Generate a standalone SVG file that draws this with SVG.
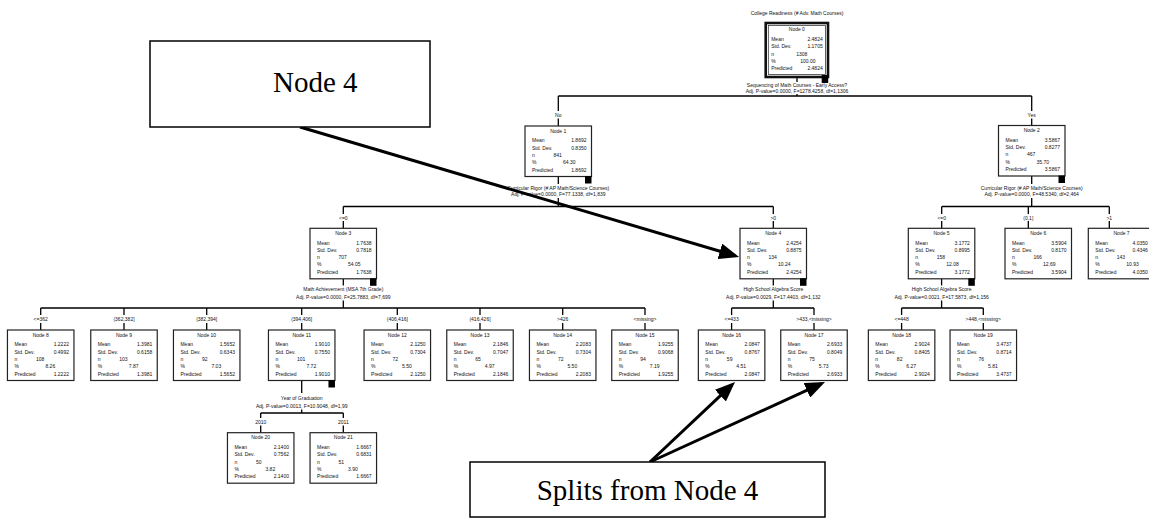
<svg xmlns="http://www.w3.org/2000/svg" width="1149" height="519" viewBox="0 0 1149 519">
<style>
.t{font-family:"Liberation Sans",Arial,sans-serif;font-size:5px;fill:#111}
.m{text-anchor:middle}
.e{text-anchor:end}
.box{fill:#fff;stroke:#222;stroke-width:1.2}
.sq{fill:#000}
.ln{stroke:#000;stroke-width:1.3;fill:none}
.call{fill:#fff;stroke:#000;stroke-width:1.5}
.ct{font-family:"Liberation Serif","Times New Roman",serif;font-size:29px;fill:#000}
.arr{stroke:#000;stroke-width:3;fill:none;marker-end:url(#ah)}
</style>
<defs>
<marker id="ah" markerUnits="userSpaceOnUse" markerWidth="22" markerHeight="16" refX="16" refY="8" orient="auto"><path d="M0,0 L20,8 L0,16 z" fill="#000"/></marker>
</defs>
<rect width="1149" height="519" fill="#fff"/>

<g id="connectors">
<path class="ln" d="M797,77 V82 M797,94 V96 M558.3,96 H1031.7 M558.3,96 V111 M558.3,118.5 V126 M1031.7,96 V111 M1031.7,118.5 V125.5"/>
<path class="ln" d="M558.3,176.5 V184 M558.3,198 V206.5 M343.3,206.5 H773.3 M343.3,206.5 V214 M343.3,221 V228.3 M773.3,206.5 V214 M773.3,221 V228.3"/>
<path class="ln" d="M1031.7,176 V184 M1031.7,198 V206.5 M941.7,206.5 H1109.3 M941.7,206.5 V214 M941.7,221 V228.3 M1028.3,206.5 V214 M1028.3,221 V228.3 M1109.3,206.5 V214 M1109.3,221 V228.3"/>
<path class="ln" d="M343.3,278.8 V285.5 M343.3,300.5 V308 M40.7,308 H645 M40.7,308 V315 M40.7,323 V330 M124,308 V315 M124,323 V330 M206.7,308 V315 M206.7,323 V330 M301.7,308 V315 M301.7,323 V330 M397.3,308 V315 M397.3,323 V330 M480,308 V315 M480,323 V330 M562.7,308 V315 M562.7,323 V330 M645,308 V315 M645,323 V330"/>
<path class="ln" d="M773.3,278.8 V285.5 M773.3,300.5 V308 M731.6,308 H814 M731.6,308 V315 M731.6,323 V330 M814,308 V315 M814,323 V330"/>
<path class="ln" d="M941.6,278.8 V285.5 M941.6,300.5 V308 M901.6,308 H983.3 M901.6,308 V315 M901.6,323 V330 M983.3,308 V315 M983.3,323 V330"/>
<path class="ln" d="M301.7,380.5 V393 M301.7,409.5 V413 M260.7,413 H343.3 M260.7,413 V418 M260.7,425.5 V432.7 M343.3,413 V418 M343.3,425.5 V432.7"/>
<g class="t m">
<text x="797" y="15">College Readiness (# Adv. Math Courses)</text>
<text x="797" y="86.8">Sequencing of Math Courses - Early Access?</text>
<text x="797" y="92.5">Adj. P-value=0.0000, F=1278.4258, df=1,1306</text>
<text x="558.3" y="116.5">No</text>
<text x="1031.7" y="116.5">Yes</text>
<text x="558.3" y="190">Curricular Rigor (# AP Math/Science Courses)</text>
<text x="558.3" y="196.3">Adj. P-value=0.0000, F=77.1338, df=1,839</text>
<text x="1031.7" y="190">Curricular Rigor (# AP Math/Science Courses)</text>
<text x="1031.7" y="196.3">Adj. P-value=0.0000, F=48.5340, df=2,464</text>
<text x="343.3" y="219.5">&lt;=0</text>
<text x="773.3" y="219.5">&gt;0</text>
<text x="941.7" y="219.5">&lt;=0</text>
<text x="1028.3" y="219.5">(0,1]</text>
<text x="1109.3" y="219.5">&gt;1</text>
<text x="343.3" y="291">Math Achievement (MSA 7th Grade)</text>
<text x="343.3" y="298.5">Adj. P-value=0.0000, F=25.7883, df=7,699</text>
<text x="773.3" y="291">High School Algebra Score</text>
<text x="773.3" y="298.5">Adj. P-value=0.0029, F=17.4403, df=1,132</text>
<text x="941.6" y="291">High School Algebra Score</text>
<text x="941.6" y="298.5">Adj. P-value=0.0021, F=17.5873, df=1,156</text>
<text x="40.7" y="321">&lt;=362</text>
<text x="124" y="321">(362,382]</text>
<text x="206.7" y="321">(382,394]</text>
<text x="301.7" y="321">(394,406]</text>
<text x="397.3" y="321">(406,416]</text>
<text x="480" y="321">(416,426]</text>
<text x="562.7" y="321">&gt;426</text>
<text x="645" y="321">&lt;missing&gt;</text>
<text x="731.6" y="321">&lt;=433</text>
<text x="814" y="321">&gt;433,&lt;missing&gt;</text>
<text x="901.6" y="321">&lt;=448</text>
<text x="983.3" y="321">&gt;448,&lt;missing&gt;</text>
<text x="301.7" y="400">Year of Graduation</text>
<text x="301.7" y="407.5">Adj. P-value=0.0013, F=10.9048, df=1,99</text>
<text x="260.7" y="423.5">2010</text>
<text x="343.3" y="423.5">2011</text>
</g>
</g>

<g id="node0" transform="translate(765.7,23)">
<rect width="62.3" height="54" fill="#fff" stroke="#111" stroke-width="2.6"/>
<rect x="2.6" y="2.6" width="57.1" height="48.8" fill="none" stroke="#222" stroke-width="0.7"/>
<text class="t m" x="31.15" y="8.2">Node 0</text>
<text class="t"><tspan x="5.5" y="17.8">Mean</tspan><tspan x="5.5" y="25.2">Std. Dev.</tspan><tspan x="5.5" y="32.6">n</tspan><tspan x="5.5" y="39.9">%</tspan><tspan x="5.5" y="47.2">Predicted</tspan></text>
<text class="t"><tspan class="e" x="57" y="17.8">2.4824</tspan><tspan class="e" x="57" y="25.2">1.1705</tspan><tspan x="30.5" y="32.6">1308</tspan><tspan x="34.5" y="39.9">100.00</tspan><tspan class="e" x="57" y="47.2">2.4824</tspan></text>
<rect class="sq" x="56" y="52" width="6.5" height="8"/>
</g>

<g id="node1" transform="translate(525,126)">
<rect class="box" width="66.5" height="50.5"/>
<text class="t m" x="33.25" y="6.8">Node 1</text>
<text class="t"><tspan x="7" y="16.3">Mean</tspan><tspan x="7" y="23.6">Std. Dev.</tspan><tspan x="7" y="30.9">n</tspan><tspan x="7" y="38.2">%</tspan><tspan x="7" y="45.5">Predicted</tspan></text>
<text class="t"><tspan class="e" x="61.5" y="16.3">1.8692</tspan><tspan class="e" x="61.5" y="23.6">0.8350</tspan><tspan x="28.5" y="30.9">841</tspan><tspan x="38" y="38.2">64.30</tspan><tspan class="e" x="61.5" y="45.5">1.8692</tspan></text>
<rect class="sq" x="60" y="50" width="6.5" height="7.5"/>
</g>

<g id="node2" transform="translate(998.5,125.5)">
<rect class="box" width="66.5" height="50.5"/>
<text class="t m" x="33.25" y="6.8">Node 2</text>
<text class="t"><tspan x="7" y="16.3">Mean</tspan><tspan x="7" y="23.6">Std. Dev.</tspan><tspan x="7" y="30.9">n</tspan><tspan x="7" y="38.2">%</tspan><tspan x="7" y="45.5">Predicted</tspan></text>
<text class="t"><tspan class="e" x="61.5" y="16.3">3.5867</tspan><tspan class="e" x="61.5" y="23.6">0.8277</tspan><tspan x="28.5" y="30.9">467</tspan><tspan x="38" y="38.2">35.70</tspan><tspan class="e" x="61.5" y="45.5">3.5867</tspan></text>
<rect class="sq" x="60" y="50" width="6.5" height="7.5"/>
</g>

<g id="node3" transform="translate(310,228.3)">
<rect class="box" width="66.5" height="50.5"/>
<text class="t m" x="33.25" y="6.8">Node 3</text>
<text class="t"><tspan x="7" y="16.3">Mean</tspan><tspan x="7" y="23.6">Std. Dev.</tspan><tspan x="7" y="30.9">n</tspan><tspan x="7" y="38.2">%</tspan><tspan x="7" y="45.5">Predicted</tspan></text>
<text class="t"><tspan class="e" x="61.5" y="16.3">1.7638</tspan><tspan class="e" x="61.5" y="23.6">0.7818</tspan><tspan x="28.5" y="30.9">707</tspan><tspan x="38" y="38.2">54.05</tspan><tspan class="e" x="61.5" y="45.5">1.7638</tspan></text>
<rect class="sq" x="60" y="50" width="6.5" height="7.5"/>
</g>

<g id="node4" transform="translate(740,228.3)">
<rect class="box" width="66.5" height="50.5"/>
<text class="t m" x="33.25" y="6.8">Node 4</text>
<text class="t"><tspan x="7" y="16.3">Mean</tspan><tspan x="7" y="23.6">Std. Dev.</tspan><tspan x="7" y="30.9">n</tspan><tspan x="7" y="38.2">%</tspan><tspan x="7" y="45.5">Predicted</tspan></text>
<text class="t"><tspan class="e" x="61.5" y="16.3">2.4254</tspan><tspan class="e" x="61.5" y="23.6">0.8875</tspan><tspan x="28.5" y="30.9">134</tspan><tspan x="38" y="38.2">10.24</tspan><tspan class="e" x="61.5" y="45.5">2.4254</tspan></text>
<rect class="sq" x="60" y="50" width="6.5" height="7.5"/>
</g>

<g id="node5" transform="translate(908.3,228.3)">
<rect class="box" width="66.5" height="50.5"/>
<text class="t m" x="33.25" y="6.8">Node 5</text>
<text class="t"><tspan x="7" y="16.3">Mean</tspan><tspan x="7" y="23.6">Std. Dev.</tspan><tspan x="7" y="30.9">n</tspan><tspan x="7" y="38.2">%</tspan><tspan x="7" y="45.5">Predicted</tspan></text>
<text class="t"><tspan class="e" x="61.5" y="16.3">3.1772</tspan><tspan class="e" x="61.5" y="23.6">0.8995</tspan><tspan x="28.5" y="30.9">158</tspan><tspan x="38" y="38.2">12.08</tspan><tspan class="e" x="61.5" y="45.5">3.1772</tspan></text>
<rect class="sq" x="60" y="50" width="6.5" height="7.5"/>
</g>

<g id="node6" transform="translate(1005,228.3)">
<rect class="box" width="66.5" height="50.5"/>
<text class="t m" x="33.25" y="6.8">Node 6</text>
<text class="t"><tspan x="7" y="16.3">Mean</tspan><tspan x="7" y="23.6">Std. Dev.</tspan><tspan x="7" y="30.9">n</tspan><tspan x="7" y="38.2">%</tspan><tspan x="7" y="45.5">Predicted</tspan></text>
<text class="t"><tspan class="e" x="61.5" y="16.3">3.5904</tspan><tspan class="e" x="61.5" y="23.6">0.8170</tspan><tspan x="28.5" y="30.9">166</tspan><tspan x="38" y="38.2">12.69</tspan><tspan class="e" x="61.5" y="45.5">3.5904</tspan></text>
</g>

<g id="node7" transform="translate(1088.3,228.3)">
<rect class="box" width="66.5" height="50.5"/>
<text class="t m" x="33.25" y="6.8">Node 7</text>
<text class="t"><tspan x="7" y="16.3">Mean</tspan><tspan x="7" y="23.6">Std. Dev.</tspan><tspan x="7" y="30.9">n</tspan><tspan x="7" y="38.2">%</tspan><tspan x="7" y="45.5">Predicted</tspan></text>
<text class="t"><tspan class="e" x="59.5" y="16.3">4.0350</tspan><tspan class="e" x="59.5" y="23.6">0.4346</tspan><tspan x="28.5" y="30.9">143</tspan><tspan x="38" y="38.2">10.93</tspan><tspan class="e" x="59.5" y="45.5">4.0350</tspan></text>
</g>

<g id="node8" transform="translate(7.45,330)">
<rect class="box" width="66.5" height="50.5"/>
<text class="t m" x="33.25" y="6.8">Node 8</text>
<text class="t"><tspan x="7" y="16.3">Mean</tspan><tspan x="7" y="23.6">Std. Dev.</tspan><tspan x="7" y="30.9">n</tspan><tspan x="7" y="38.2">%</tspan><tspan x="7" y="45.5">Predicted</tspan></text>
<text class="t"><tspan class="e" x="61.5" y="16.3">1.2222</tspan><tspan class="e" x="61.5" y="23.6">0.4992</tspan><tspan x="28.5" y="30.9">108</tspan><tspan x="38" y="38.2">8.26</tspan><tspan class="e" x="61.5" y="45.5">1.2222</tspan></text>
</g>

<g id="node9" transform="translate(90.75,330)">
<rect class="box" width="66.5" height="50.5"/>
<text class="t m" x="33.25" y="6.8">Node 9</text>
<text class="t"><tspan x="7" y="16.3">Mean</tspan><tspan x="7" y="23.6">Std. Dev.</tspan><tspan x="7" y="30.9">n</tspan><tspan x="7" y="38.2">%</tspan><tspan x="7" y="45.5">Predicted</tspan></text>
<text class="t"><tspan class="e" x="61.5" y="16.3">1.3981</tspan><tspan class="e" x="61.5" y="23.6">0.6158</tspan><tspan x="28.5" y="30.9">103</tspan><tspan x="38" y="38.2">7.87</tspan><tspan class="e" x="61.5" y="45.5">1.3981</tspan></text>
</g>

<g id="node10" transform="translate(173.45,330)">
<rect class="box" width="66.5" height="50.5"/>
<text class="t m" x="33.25" y="6.8">Node 10</text>
<text class="t"><tspan x="7" y="16.3">Mean</tspan><tspan x="7" y="23.6">Std. Dev.</tspan><tspan x="7" y="30.9">n</tspan><tspan x="7" y="38.2">%</tspan><tspan x="7" y="45.5">Predicted</tspan></text>
<text class="t"><tspan class="e" x="61.5" y="16.3">1.5652</tspan><tspan class="e" x="61.5" y="23.6">0.6343</tspan><tspan x="28.5" y="30.9">92</tspan><tspan x="38" y="38.2">7.03</tspan><tspan class="e" x="61.5" y="45.5">1.5652</tspan></text>
</g>

<g id="node11" transform="translate(268.45,330)">
<rect class="box" width="66.5" height="50.5"/>
<text class="t m" x="33.25" y="6.8">Node 11</text>
<text class="t"><tspan x="7" y="16.3">Mean</tspan><tspan x="7" y="23.6">Std. Dev.</tspan><tspan x="7" y="30.9">n</tspan><tspan x="7" y="38.2">%</tspan><tspan x="7" y="45.5">Predicted</tspan></text>
<text class="t"><tspan class="e" x="61.5" y="16.3">1.9010</tspan><tspan class="e" x="61.5" y="23.6">0.7550</tspan><tspan x="28.5" y="30.9">101</tspan><tspan x="38" y="38.2">7.72</tspan><tspan class="e" x="61.5" y="45.5">1.9010</tspan></text>
<rect class="sq" x="60" y="50" width="6.5" height="7.5"/>
</g>

<g id="node12" transform="translate(364.05,330)">
<rect class="box" width="66.5" height="50.5"/>
<text class="t m" x="33.25" y="6.8">Node 12</text>
<text class="t"><tspan x="7" y="16.3">Mean</tspan><tspan x="7" y="23.6">Std. Dev.</tspan><tspan x="7" y="30.9">n</tspan><tspan x="7" y="38.2">%</tspan><tspan x="7" y="45.5">Predicted</tspan></text>
<text class="t"><tspan class="e" x="61.5" y="16.3">2.1250</tspan><tspan class="e" x="61.5" y="23.6">0.7304</tspan><tspan x="28.5" y="30.9">72</tspan><tspan x="38" y="38.2">5.50</tspan><tspan class="e" x="61.5" y="45.5">2.1250</tspan></text>
</g>

<g id="node13" transform="translate(446.75,330)">
<rect class="box" width="66.5" height="50.5"/>
<text class="t m" x="33.25" y="6.8">Node 13</text>
<text class="t"><tspan x="7" y="16.3">Mean</tspan><tspan x="7" y="23.6">Std. Dev.</tspan><tspan x="7" y="30.9">n</tspan><tspan x="7" y="38.2">%</tspan><tspan x="7" y="45.5">Predicted</tspan></text>
<text class="t"><tspan class="e" x="61.5" y="16.3">2.1846</tspan><tspan class="e" x="61.5" y="23.6">0.7047</tspan><tspan x="28.5" y="30.9">65</tspan><tspan x="38" y="38.2">4.97</tspan><tspan class="e" x="61.5" y="45.5">2.1846</tspan></text>
</g>

<g id="node14" transform="translate(529.45,330)">
<rect class="box" width="66.5" height="50.5"/>
<text class="t m" x="33.25" y="6.8">Node 14</text>
<text class="t"><tspan x="7" y="16.3">Mean</tspan><tspan x="7" y="23.6">Std. Dev.</tspan><tspan x="7" y="30.9">n</tspan><tspan x="7" y="38.2">%</tspan><tspan x="7" y="45.5">Predicted</tspan></text>
<text class="t"><tspan class="e" x="61.5" y="16.3">2.2083</tspan><tspan class="e" x="61.5" y="23.6">0.7304</tspan><tspan x="28.5" y="30.9">72</tspan><tspan x="38" y="38.2">5.50</tspan><tspan class="e" x="61.5" y="45.5">2.2083</tspan></text>
</g>

<g id="node15" transform="translate(611.75,330)">
<rect class="box" width="66.5" height="50.5"/>
<text class="t m" x="33.25" y="6.8">Node 15</text>
<text class="t"><tspan x="7" y="16.3">Mean</tspan><tspan x="7" y="23.6">Std. Dev.</tspan><tspan x="7" y="30.9">n</tspan><tspan x="7" y="38.2">%</tspan><tspan x="7" y="45.5">Predicted</tspan></text>
<text class="t"><tspan class="e" x="61.5" y="16.3">1.9255</tspan><tspan class="e" x="61.5" y="23.6">0.9068</tspan><tspan x="28.5" y="30.9">94</tspan><tspan x="38" y="38.2">7.19</tspan><tspan class="e" x="61.5" y="45.5">1.9255</tspan></text>
</g>

<g id="node16" transform="translate(698.35,330)">
<rect class="box" width="66.5" height="50.5"/>
<text class="t m" x="33.25" y="6.8">Node 16</text>
<text class="t"><tspan x="7" y="16.3">Mean</tspan><tspan x="7" y="23.6">Std. Dev.</tspan><tspan x="7" y="30.9">n</tspan><tspan x="7" y="38.2">%</tspan><tspan x="7" y="45.5">Predicted</tspan></text>
<text class="t"><tspan class="e" x="61.5" y="16.3">2.0847</tspan><tspan class="e" x="61.5" y="23.6">0.8767</tspan><tspan x="28.5" y="30.9">59</tspan><tspan x="38" y="38.2">4.51</tspan><tspan class="e" x="61.5" y="45.5">2.0847</tspan></text>
</g>

<g id="node17" transform="translate(780.75,330)">
<rect class="box" width="66.5" height="50.5"/>
<text class="t m" x="33.25" y="6.8">Node 17</text>
<text class="t"><tspan x="7" y="16.3">Mean</tspan><tspan x="7" y="23.6">Std. Dev.</tspan><tspan x="7" y="30.9">n</tspan><tspan x="7" y="38.2">%</tspan><tspan x="7" y="45.5">Predicted</tspan></text>
<text class="t"><tspan class="e" x="61.5" y="16.3">2.6933</tspan><tspan class="e" x="61.5" y="23.6">0.8049</tspan><tspan x="28.5" y="30.9">75</tspan><tspan x="38" y="38.2">5.73</tspan><tspan class="e" x="61.5" y="45.5">2.6933</tspan></text>
</g>

<g id="node18" transform="translate(868.35,330)">
<rect class="box" width="66.5" height="50.5"/>
<text class="t m" x="33.25" y="6.8">Node 18</text>
<text class="t"><tspan x="7" y="16.3">Mean</tspan><tspan x="7" y="23.6">Std. Dev.</tspan><tspan x="7" y="30.9">n</tspan><tspan x="7" y="38.2">%</tspan><tspan x="7" y="45.5">Predicted</tspan></text>
<text class="t"><tspan class="e" x="61.5" y="16.3">2.9024</tspan><tspan class="e" x="61.5" y="23.6">0.8405</tspan><tspan x="28.5" y="30.9">82</tspan><tspan x="38" y="38.2">6.27</tspan><tspan class="e" x="61.5" y="45.5">2.9024</tspan></text>
</g>

<g id="node19" transform="translate(950.05,330)">
<rect class="box" width="66.5" height="50.5"/>
<text class="t m" x="33.25" y="6.8">Node 19</text>
<text class="t"><tspan x="7" y="16.3">Mean</tspan><tspan x="7" y="23.6">Std. Dev.</tspan><tspan x="7" y="30.9">n</tspan><tspan x="7" y="38.2">%</tspan><tspan x="7" y="45.5">Predicted</tspan></text>
<text class="t"><tspan class="e" x="61.5" y="16.3">3.4737</tspan><tspan class="e" x="61.5" y="23.6">0.8714</tspan><tspan x="28.5" y="30.9">76</tspan><tspan x="38" y="38.2">5.81</tspan><tspan class="e" x="61.5" y="45.5">3.4737</tspan></text>
</g>

<g id="node20" transform="translate(227.45,432.7)">
<rect class="box" width="66.5" height="50.5"/>
<text class="t m" x="33.25" y="6.8">Node 20</text>
<text class="t"><tspan x="7" y="16.3">Mean</tspan><tspan x="7" y="23.6">Std. Dev.</tspan><tspan x="7" y="30.9">n</tspan><tspan x="7" y="38.2">%</tspan><tspan x="7" y="45.5">Predicted</tspan></text>
<text class="t"><tspan class="e" x="61.5" y="16.3">2.1400</tspan><tspan class="e" x="61.5" y="23.6">0.7562</tspan><tspan x="28.5" y="30.9">50</tspan><tspan x="38" y="38.2">3.82</tspan><tspan class="e" x="61.5" y="45.5">2.1400</tspan></text>
</g>

<g id="node21" transform="translate(310.05,432.7)">
<rect class="box" width="66.5" height="50.5"/>
<text class="t m" x="33.25" y="6.8">Node 21</text>
<text class="t"><tspan x="7" y="16.3">Mean</tspan><tspan x="7" y="23.6">Std. Dev.</tspan><tspan x="7" y="30.9">n</tspan><tspan x="7" y="38.2">%</tspan><tspan x="7" y="45.5">Predicted</tspan></text>
<text class="t"><tspan class="e" x="61.5" y="16.3">1.6667</tspan><tspan class="e" x="61.5" y="23.6">0.6831</tspan><tspan x="28.5" y="30.9">51</tspan><tspan x="38" y="38.2">3.90</tspan><tspan class="e" x="61.5" y="45.5">1.6667</tspan></text>
</g>

<g id="callout-arrows">
<path class="arr" d="M300,127 L735.2,255.8"/>
<path class="arr" d="M650,462 L732.1,384.7"/>
<path class="arr" d="M650,462 L821.4,383.7"/>
</g>

<g id="callout-node4">
<rect class="call" x="150" y="41" width="280" height="86"/>
<text class="ct" x="273" y="92">Node 4</text>
</g>

<g id="callout-splits">
<rect class="call" x="470" y="462" width="355" height="55"/>
<text class="ct" x="647.5" y="500" text-anchor="middle">Splits from Node 4</text>
</g>
</svg>
